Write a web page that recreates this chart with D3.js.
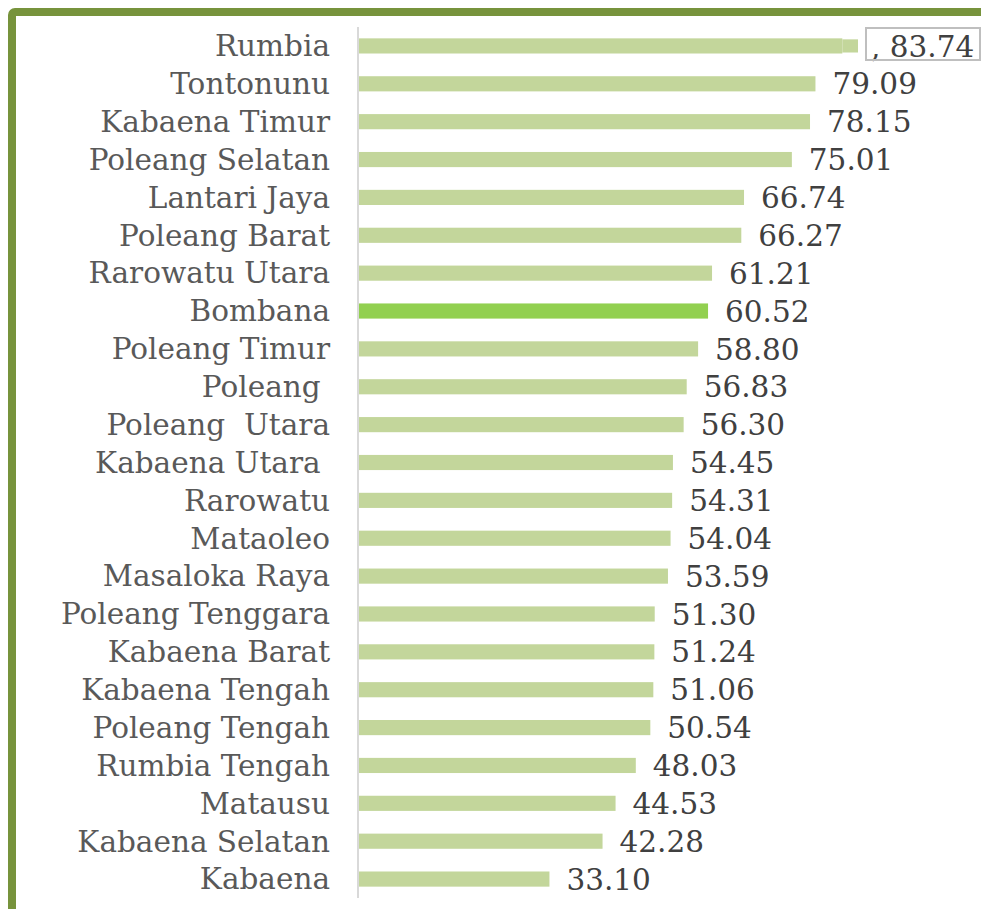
<!DOCTYPE html>
<html>
<head>
<meta charset="utf-8">
<script src="https://cdn.jsdelivr.net/npm/d3@7"></script>
<style>
  html, body { margin: 0; padding: 0; background: #fff; }
  svg { display: block; }
  text { white-space: pre; }
</style>
</head>
<body>
<div class="svg-container"></div>
<script>
// kecamatan, urut dari atas ke bawah
var categories = ['Rumbia', 'Tontonunu', 'Kabaena Timur', 'Poleang Selatan', 'Lantari Jaya',
  'Poleang Barat', 'Rarowatu Utara', 'Bombana', 'Poleang Timur', 'Poleang ', 'Poleang  Utara',
  'Kabaena Utara ', 'Rarowatu', 'Mataoleo', 'Masaloka Raya', 'Poleang Tenggara', 'Kabaena Barat',
  'Kabaena Tengah', 'Poleang Tengah', 'Rumbia Tengah', 'Matausu', 'Kabaena Selatan', 'Kabaena'];
var values = [83.74, 79.09, 78.15, 75.01, 66.74, 66.27, 61.21, 60.52, 58.80, 56.83, 56.30,
  54.45, 54.31, 54.04, 53.59, 51.30, 51.24, 51.06, 50.54, 48.03, 44.53, 42.28, 33.10];
var valueLabels = [', 83.74', '79.09', '78.15', '75.01', '66.74', '66.27', '61.21', '60.52', '58.80',
  '56.83', '56.30', '54.45', '54.31', '54.04', '53.59', '51.30', '51.24', '51.06', '50.54',
  '48.03', '44.53', '42.28', '33.10'];
var highlight = 'Bombana';

var chart = {
  width: 981,
  height: 909,
  axisX: 358,
  top: 27,
  bottom: 898,
  barColor: '#C3D69B',
  hiColor: '#92D050',
  font: '"DejaVu Serif", "Liberation Serif", serif'
};

var rows = categories.map(function(c, i){ return {name: c, value: values[i], label: valueLabels[i]}; });

var svg = d3.select('.svg-container').append('svg')
  .attr('width', chart.width)
  .attr('height', chart.height);

var y = d3.scaleBand()
  .domain(categories)
  .range([chart.top, chart.bottom])
  .paddingInner(0.6)
  .paddingOuter(0.3);

var x = d3.scaleLinear()
  .domain([0, 90])
  .range([chart.axisX, chart.axisX + 5.784 * 90]);

// bingkai hijau
svg.append('rect')
  .attr('x', 12).attr('y', 12)
  .attr('width', 1200).attr('height', 1200)
  .attr('rx', 3).attr('ry', 3)
  .attr('fill', 'none')
  .attr('stroke', '#77933C')
  .attr('stroke-width', 8);

// bars
svg.append('g').selectAll('rect')
  .data(rows)
  .join('rect')
  .attr('x', x(0))
  .attr('y', function(d){ return y(d.name); })
  .attr('width', function(d){ return x(d.value) - x(0); })
  .attr('height', y.bandwidth())
  .attr('fill', function(d){ return d.name === highlight ? chart.hiColor : chart.barColor; });

// vertical axis line
svg.append('g')
  .attr('transform', 'translate(' + chart.axisX + ',0)')
  .call(d3.axisLeft(y).tickSize(0).tickFormat(''))
  .call(function(g){
    g.select('.domain').attr('stroke', '#D9D9D9').attr('stroke-width', 2)
      .attr('d', 'M0,' + chart.top + 'V' + chart.bottom);
  });

// category labels
svg.append('g').selectAll('text')
  .data(rows)
  .join('text')
  .attr('x', 330)
  .attr('y', function(d){ return y(d.name) + y.bandwidth() / 2; })
  .attr('dy', '0.35em')
  .attr('text-anchor', 'end')
  .attr('font-family', chart.font)
  .attr('font-size', 29.5)
  .attr('fill', '#595959')
  .text(function(d){ return d.name; });

// value labels
var first = rows[0];
svg.append('g').selectAll('text')
  .data(rows)
  .join('text')
  .attr('x', function(d, i){ return i === 0 ? 871 : x(d.value) + 17; })
  .attr('y', function(d){ return y(d.name) + y.bandwidth() / 2; })
  .attr('dy', '0.36em')
  .attr('font-family', chart.font)
  .attr('font-size', 29.5)
  .attr('fill', '#404040')
  .text(function(d){ return d.label; });

// callout box on the first label
svg.append('rect')
  .attr('x', x(first.value))
  .attr('y', y(first.name) + 1)
  .attr('width', 866 - 8 - x(first.value))
  .attr('height', y.bandwidth() - 2)
  .attr('fill', chart.barColor);
svg.append('rect')
  .attr('x', 866).attr('y', 28)
  .attr('width', 114).attr('height', 32)
  .attr('fill', '#fff')
  .attr('fill-opacity', 0)
  .attr('stroke', '#BFBFBF')
  .attr('stroke-width', 2);
</script>
</body>
</html>
